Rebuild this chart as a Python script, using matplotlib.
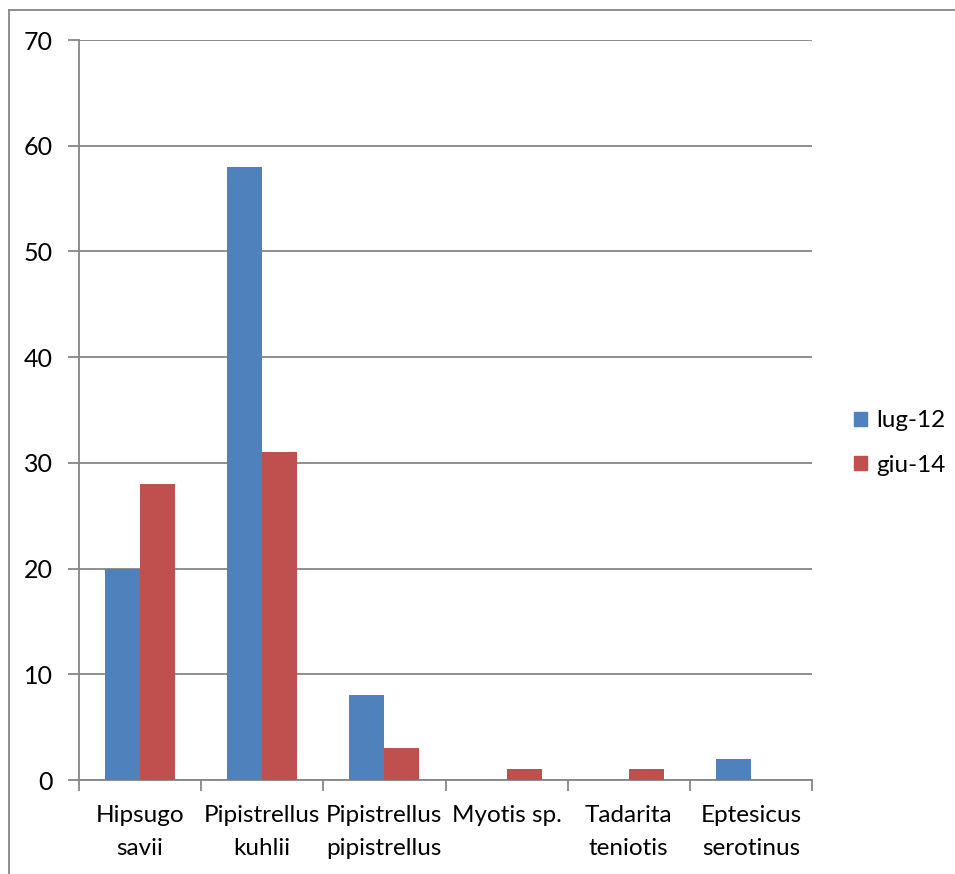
import matplotlib
matplotlib.use("Agg")
import matplotlib.pyplot as plt
import numpy as np
from matplotlib.patches import Patch
from matplotlib.lines import Line2D

categories = ["Hipsugo\nsavii", "Pipistrellus\nkuhlii", "Pipistrellus\npipistrellus",
              "Myotis sp.", "Tadarita\nteniotis", "Eptesicus\nserotinus"]
series_names = ["lug-12", "giu-14"]
lug12 = [20, 58, 8, 0, 0, 2]
giu14 = [28, 31, 3, 1, 1, 0]
colors = ["#4F81BD", "#C0504D"]
yticks = [0, 10, 20, 30, 40, 50, 60, 70]

plt.rcParams['font.family'] = ['Lato', 'DejaVu Sans']
grid_col = "#868686"

fig = plt.figure(figsize=(9.55, 8.74), dpi=100)
ax = fig.add_axes([79 / 955, 1 - 780 / 874, (812 - 79) / 955, (780 - 40) / 874])

x = np.arange(len(categories))
w = 0.287
ax.bar(x - w / 2, lug12, width=w, color=colors[0], label=series_names[0], zorder=3)
ax.bar(x + w / 2, giu14, width=w, color=colors[1], label=series_names[1], zorder=3)

ax.set_xlim(-0.5, len(categories) - 0.5)
ax.set_ylim(0, 70)
ax.set_yticks(yticks)
ax.set_yticklabels([str(v) for v in yticks], fontsize=18)
ax.yaxis.grid(True, color=grid_col, linewidth=1.3, zorder=0)
ax.set_axisbelow(True)

# category boundaries carry the tick marks; labels sit between them
ax.set_xticks(np.arange(len(categories) + 1) - 0.5)
ax.set_xticklabels([])
ax.set_xticks(x, minor=True)
ax.set_xticklabels(categories, minor=True, fontsize=17.5, linespacing=1.72)
ax.tick_params(axis='x', which='major', length=8, width=1.3, color=grid_col, direction='out')
ax.tick_params(axis='x', which='minor', length=0, pad=18)
ax.tick_params(axis='y', length=8, width=1.3, color=grid_col, direction='out', pad=11)

for side in ["top", "right"]:
    ax.spines[side].set_visible(False)
for side in ["left", "bottom"]:
    ax.spines[side].set_color(grid_col)
    ax.spines[side].set_linewidth(1.3)

handles = [Patch(color=c, label=n) for c, n in zip(colors, series_names)]
fig.legend(handles=handles, loc="center left", bbox_to_anchor=(854 / 955, 1 - 443 / 874),
           frameon=False, fontsize=17.5, handlelength=0.55, handleheight=0.55,
           handletextpad=0.35, labelspacing=0.95, borderpad=0, borderaxespad=0)

# outer chart border
fig.add_artist(Line2D([9 / 955, 1], [1 - 10 / 874, 1 - 10 / 874], color=grid_col, linewidth=1.3,
                      transform=fig.transFigure))
fig.add_artist(Line2D([9 / 955, 9 / 955], [0, 1 - 10 / 874], color=grid_col, linewidth=1.3,
                      transform=fig.transFigure))

fig.savefig("out.png", dpi=100, facecolor="white")
